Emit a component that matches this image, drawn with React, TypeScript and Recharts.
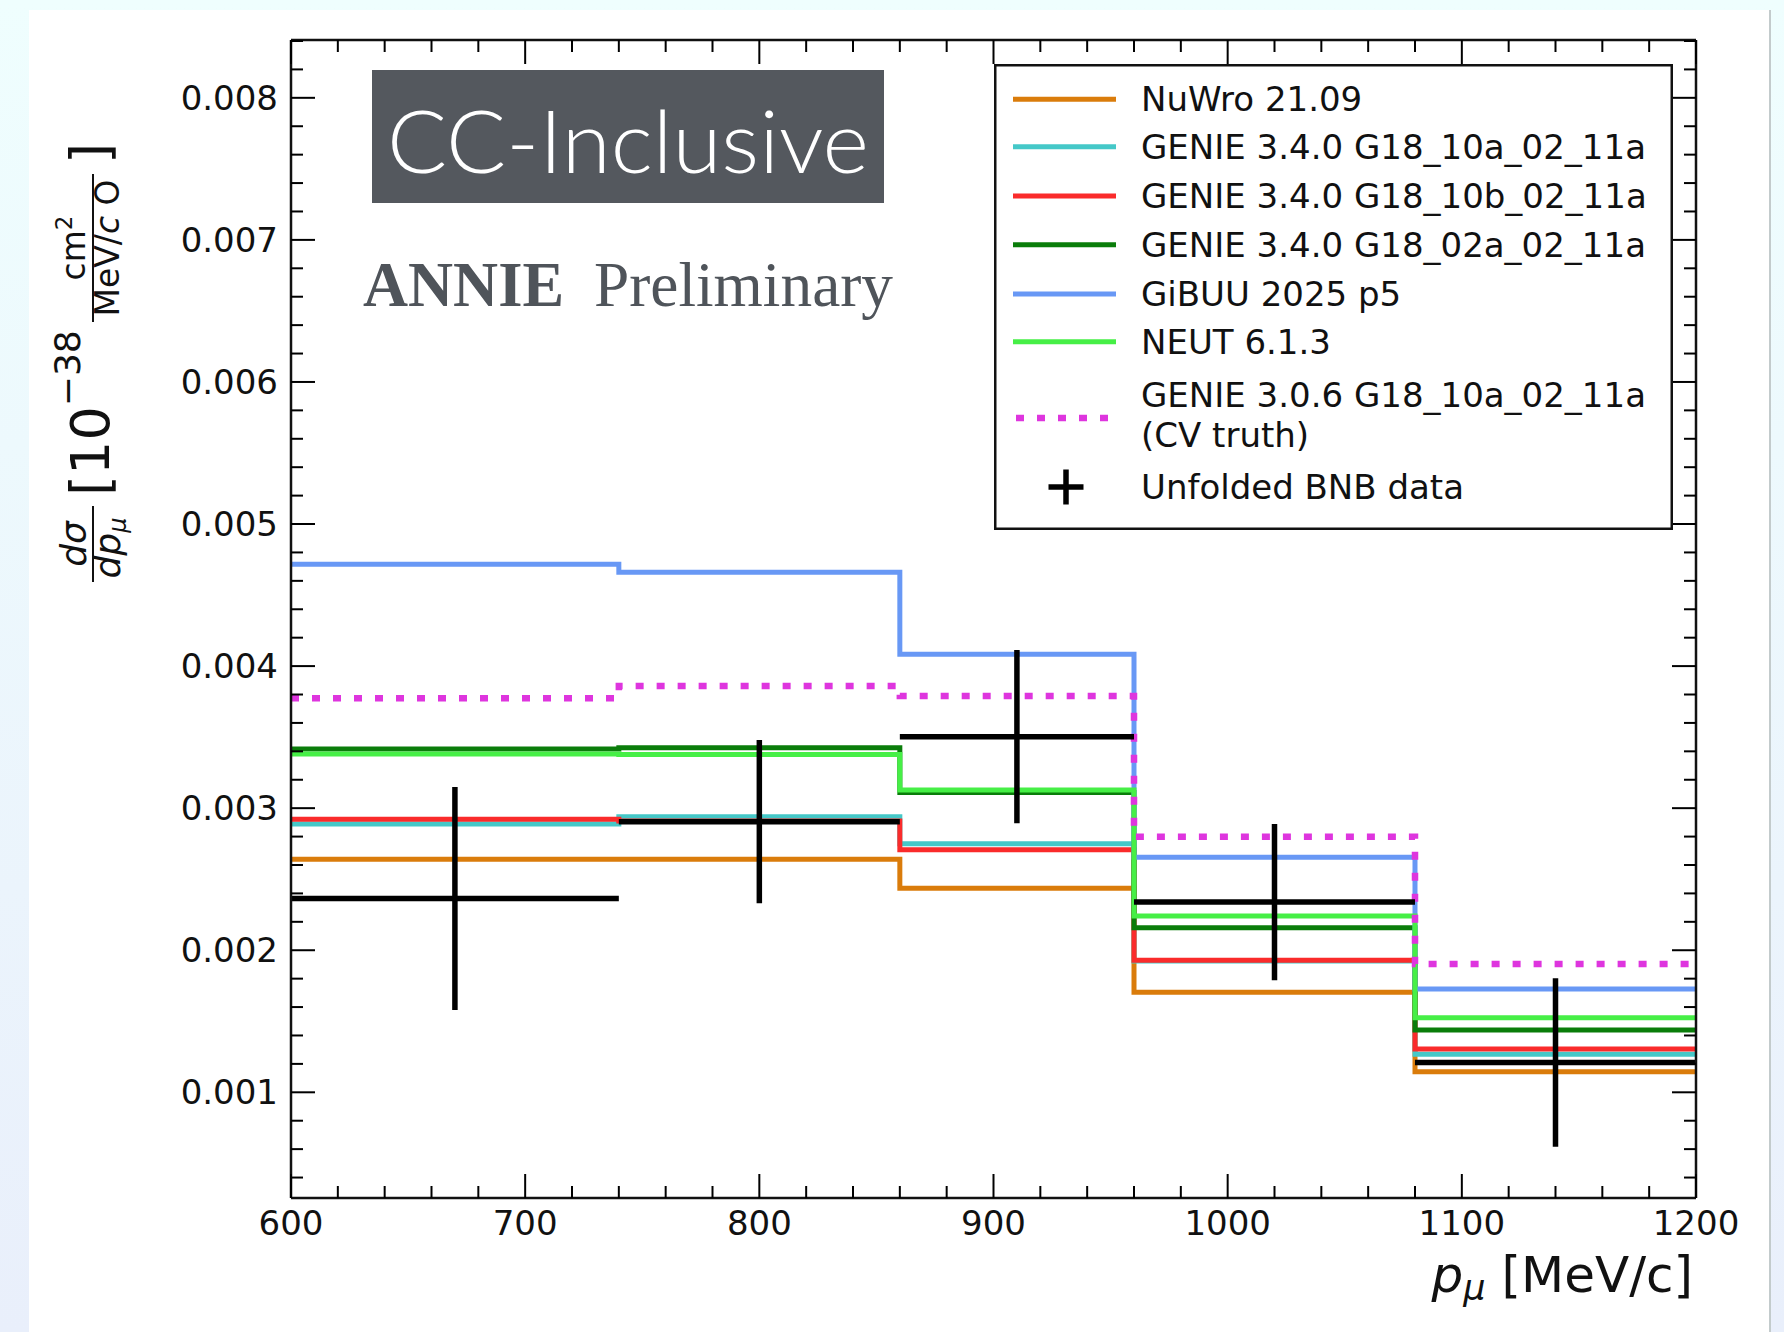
import React from 'react';
import { ComposedChart, Line, Scatter, ErrorBar, XAxis, YAxis, Legend, Customized } from 'recharts';

// ---------- data ----------
const binEdges = [600, 740, 860, 960, 1080, 1200];
const nuwro = [0.00264, 0.00264, 0.002436, 0.001704, 0.001145];
const genie10a = [0.002888, 0.00294, 0.00275, 0.001925, 0.001267];
const genie10b = [0.002922, 0.00291, 0.002708, 0.001929, 0.001305];
const genie02a = [0.003416, 0.003425, 0.00311, 0.002158, 0.001438];
const gibuu = [0.004717, 0.00466, 0.004083, 0.002654, 0.001727];
const neut = [0.003381, 0.003378, 0.003128, 0.002241, 0.001525];
const cvTruth = [0.003773, 0.00386, 0.00379, 0.002799, 0.001903];

const dataX = [670, 800, 910, 1020, 1140];
const dataY = [0.002364, 0.002905, 0.003503, 0.002339, 0.00121];
const dataYErr = [0.000785, 0.000575, 0.00061, 0.00055, 0.000593];
const dataXErr = [70, 60, 50, 60, 60];

const xMajorTicks = [600, 700, 800, 900, 1000, 1100, 1200];
const xTicks = [
  600, 620, 640, 660, 680, 700, 720, 740, 760, 780, 800, 820, 840, 860, 880, 900,
  920, 940, 960, 980, 1000, 1020, 1040, 1060, 1080, 1100, 1120, 1140, 1160, 1180, 1200,
];
const yMajorTicks = [0.001, 0.002, 0.003, 0.004, 0.005, 0.006, 0.007, 0.008];
const yTicks = [
  0.0004, 0.0006, 0.0008, 0.001, 0.0012, 0.0014, 0.0016, 0.0018, 0.002, 0.0022, 0.0024,
  0.0026, 0.0028, 0.003, 0.0032, 0.0034, 0.0036, 0.0038, 0.004, 0.0042, 0.0044, 0.0046,
  0.0048, 0.005, 0.0052, 0.0054, 0.0056, 0.0058, 0.006, 0.0062, 0.0064, 0.0066, 0.0068,
  0.007, 0.0072, 0.0074, 0.0076, 0.0078, 0.008, 0.0082, 0.0084,
];
const xDomain = [600, 1200];
const yDomain = [0.000256, 0.008407];

const seriesValues: Record<string, number[]> = {
  nuwro, genie10a, genie10b, genie02a, gibuu, neut, cvTruth,
};

const seriesConfig = [
  { key: 'nuwro', name: 'NuWro 21.09', color: '#da7c0b' },
  { key: 'genie10a', name: 'GENIE 3.4.0 G18_10a_02_11a', color: '#45c8c8' },
  { key: 'genie10b', name: 'GENIE 3.4.0 G18_10b_02_11a', color: '#fa2b2b' },
  { key: 'genie02a', name: 'GENIE 3.4.0 G18_02a_02_11a', color: '#0a7d0a' },
  { key: 'gibuu', name: 'GiBUU 2025 p5', color: '#6898f5' },
  { key: 'neut', name: 'NEUT 6.1.3', color: '#46ef46' },
  { key: 'cvTruth', name: 'GENIE 3.0.6 G18_10a_02_11a', name2: '(CV truth)', color: '#de35de', dash: '8 13' },
];
const dataName = 'Unfolded BNB data';

const stepRows = binEdges.map((x, i) => {
  const row: Record<string, number> = { x };
  const idx = Math.min(i, binEdges.length - 2);
  Object.keys(seriesValues).forEach((k) => {
    row[k] = seriesValues[k][idx];
  });
  return row;
});

const points = dataX.map((x, i) => ({ x, y: dataY[i], ex: dataXErr[i], ey: dataYErr[i] }));

// ---------- styling helpers ----------
const FONT = "'DejaVu Sans', 'Liberation Sans', sans-serif";
const MAJOR = 24;
const MINOR = 12;
const TICK_W = 2;
const isMajor = (v: number, majors: number[]) => majors.some((m) => Math.abs(m - v) < 1e-9);

const BottomTick = (props: any) => {
  const { x, y, payload } = props;
  const major = isMajor(payload.value, xMajorTicks);
  return (
    <g>
      <line x1={x} x2={x} y1={y} y2={y - (major ? MAJOR : MINOR)} stroke="#000" strokeWidth={TICK_W} />
      {major && (
        <text x={x} y={y + 37} textAnchor="middle" fontFamily={FONT} fontSize={34} fill="#111">
          {payload.value}
        </text>
      )}
    </g>
  );
};

const TopTick = (props: any) => {
  const { x, y, payload } = props;
  const major = isMajor(payload.value, xMajorTicks);
  return <line x1={x} x2={x} y1={y} y2={y + (major ? MAJOR : MINOR)} stroke="#000" strokeWidth={TICK_W} />;
};

const LeftTick = (props: any) => {
  const { x, y, payload } = props;
  const major = isMajor(payload.value, yMajorTicks);
  return (
    <g>
      <line x1={x} x2={x + (major ? MAJOR : MINOR)} y1={y} y2={y} stroke="#000" strokeWidth={TICK_W} />
      {major && (
        <text x={x - 13} y={y + 12} textAnchor="end" fontFamily={FONT} fontSize={34} fill="#111">
          {Number(payload.value).toFixed(3)}
        </text>
      )}
    </g>
  );
};

const RightTick = (props: any) => {
  const { x, y, payload } = props;
  const major = isMajor(payload.value, yMajorTicks);
  return <line x1={x} x2={x - (major ? MAJOR : MINOR)} y1={y} y2={y} stroke="#000" strokeWidth={TICK_W} />;
};

const NoShape = () => <g />;

// ---------- legend ----------
const LEG_FONT = 34;
const LegendContent = () => {
  const rowY = [35.3, 82.7, 132, 180.7, 230, 277.7];
  return (
    <svg width={680} height={467} style={{ display: 'block' }}>
      <rect x={1.25} y={1.25} width={676.5} height={463.5} fill="#fff" stroke="#111" strokeWidth={2.5} />
      {seriesConfig.slice(0, 6).map((s, i) => (
        <g key={s.key}>
          <line x1={19} x2={122} y1={rowY[i]} y2={rowY[i]} stroke={s.color} strokeWidth={5} />
          <text x={147} y={rowY[i] + 12} fontFamily={FONT} fontSize={LEG_FONT} fill="#111">
            {s.name}
          </text>
        </g>
      ))}
      <line x1={22} x2={122} y1={354} y2={354} stroke={seriesConfig[6].color} strokeWidth={6.5} strokeDasharray="8 13" />
      <text x={147} y={343} fontFamily={FONT} fontSize={LEG_FONT} fill="#111">
        {seriesConfig[6].name}
      </text>
      <text x={147} y={383} fontFamily={FONT} fontSize={LEG_FONT} fill="#111">
        {seriesConfig[6].name2}
      </text>
      <line x1={54.5} x2={89.5} y1={423} y2={423} stroke="#000" strokeWidth={5.5} />
      <line x1={72} x2={72} y1={405.5} y2={440.5} stroke="#000" strokeWidth={5.5} />
      <text x={147} y={435} fontFamily={FONT} fontSize={LEG_FONT} fill="#111">
        {dataName}
      </text>
    </svg>
  );
};

// ---------- annotations & axis titles ----------
const Annotations = () => (
  <g>
    <rect x={372} y={70} width={512} height={133} fill="#54585e" />
    <text
      x={387}
      y={173}
      fill="#ffffff"
      fontFamily="Lato, 'Open Sans', Roboto, sans-serif"
      fontWeight={300}
      fontSize={86}
      textLength={482}
      lengthAdjust="spacingAndGlyphs"
    >
      CC-Inclusive
    </text>
    <text
      x={363}
      y={306}
      fill="#4f545a"
      fontFamily="'Liberation Serif', 'DejaVu Serif', serif"
      fontWeight="bold"
      fontSize={64}
      textLength={201}
      lengthAdjust="spacingAndGlyphs"
    >
      ANNIE
    </text>
    <text
      x={594}
      y={306}
      fill="#4f545a"
      fontFamily="'Liberation Serif', 'DejaVu Serif', serif"
      fontSize={64}
      textLength={299}
      lengthAdjust="spacingAndGlyphs"
    >
      Preliminary
    </text>

    {/* x-axis title */}
    <text x={1693} y={1292} textAnchor="end" fontFamily={FONT} fontSize={50} fill="#111" style={{ whiteSpace: 'pre' }}>
      <tspan fontStyle="italic">p</tspan>
      <tspan fontStyle="italic" fontSize={35} dy={8}>μ</tspan>
      <tspan dy={-8}>{' [MeV/c]'}</tspan>
    </text>

    {/* y-axis title */}
    <g transform="translate(93,362) rotate(-90)" fontFamily={FONT} fill="#111">
      <text x={-182} y={-7} fontSize={36} fontStyle="italic" textAnchor="middle">dσ</text>
      <line x1={-220} x2={-144} y1={0} y2={0} stroke="#111" strokeWidth={2} />
      <text x={-186} y={27} fontSize={36} fontStyle="italic" textAnchor="middle">
        dp<tspan fontSize={24} dy={6}>μ</tspan>
      </text>
      <text x={-134} y={16} fontSize={54}>
        [10<tspan fontSize={36} dy={-29}>−38</tspan>
      </text>
      <text x={114} y={-8} fontSize={33} textAnchor="middle">
        cm<tspan fontSize={23} dy={-13}>2</tspan>
      </text>
      <line x1={40} x2={188} y1={0} y2={0} stroke="#111" strokeWidth={2} />
      <text x={114} y={26} fontSize={33} textAnchor="middle" style={{ whiteSpace: 'pre' }}>
        MeV/<tspan fontStyle="italic">c</tspan>{' O'}
      </text>
      <text x={198} y={16} fontSize={54}>]</text>
    </g>
  </g>
);

const axisLine = { stroke: '#111', strokeWidth: 2.5 };

export default function App() {
  return (
    <div
      style={{
        position: 'absolute',
        left: 0,
        top: 0,
        width: 1784,
        height: 1332,
        background: 'linear-gradient(to bottom, #effefe, #e9effb)',
        overflow: 'hidden',
      }}
    >
      <div
        style={{
          position: 'absolute',
          left: 29,
          top: 10,
          width: 1740,
          height: 1322,
          background: '#ffffff',
          borderRight: '2px solid #c3cbcc',
        }}
      />
      <div style={{ position: 'absolute', left: 0, top: 0 }}>
        <ComposedChart
          width={1784}
          height={1332}
          data={stepRows}
          margin={{ top: 39, right: 87, bottom: 74, left: 171 }}
        >
          <XAxis
            xAxisId={0}
            dataKey="x"
            type="number"
            domain={xDomain}
            allowDataOverflow
            ticks={xTicks}
            interval={0}
            height={60}
            tickSize={0}
            tickMargin={0}
            tickLine={false}
            tick={BottomTick}
            axisLine={axisLine}
          />
          <XAxis
            xAxisId="top"
            orientation="top"
            dataKey="x"
            type="number"
            domain={xDomain}
            allowDataOverflow
            ticks={xTicks}
            interval={0}
            height={1}
            tickSize={0}
            tickMargin={0}
            tickLine={false}
            tick={TopTick}
            axisLine={axisLine}
          />
          <YAxis
            yAxisId={0}
            type="number"
            domain={yDomain}
            allowDataOverflow
            ticks={yTicks}
            interval={0}
            width={120}
            tickSize={0}
            tickMargin={0}
            tickLine={false}
            tick={LeftTick}
            axisLine={axisLine}
          />
          <YAxis
            yAxisId="right"
            orientation="right"
            type="number"
            domain={yDomain}
            allowDataOverflow
            ticks={yTicks}
            interval={0}
            width={1}
            tickSize={0}
            tickMargin={0}
            tickLine={false}
            tick={RightTick}
            axisLine={axisLine}
          />
          <Customized component={Annotations} />
          {seriesConfig.map((s) => (
            <Line
              key={s.key}
              xAxisId={0}
              yAxisId={0}
              type="stepAfter"
              dataKey={s.key}
              name={s.name}
              stroke={s.color}
              strokeWidth={s.dash ? 6.5 : 5}
              strokeDasharray={s.dash}
              dot={false}
              activeDot={false}
              isAnimationActive={false}
            />
          ))}
          <Scatter
            xAxisId={0}
            yAxisId={0}
            data={points}
            dataKey="y"
            name={dataName}
            fill="#000"
            shape={NoShape}
            isAnimationActive={false}
          >
            <ErrorBar dataKey="ey" direction="y" width={0} stroke="#000" strokeWidth={5.5} isAnimationActive={false} />
            <ErrorBar dataKey="ex" direction="x" width={0} stroke="#000" strokeWidth={5.5} isAnimationActive={false} />
          </Scatter>
          <Legend
            layout="vertical"
            align="center"
            verticalAlign="middle"
            content={LegendContent}
            wrapperStyle={{ left: 994, top: 64, width: 680, height: 467 }}
          />
        </ComposedChart>
      </div>
    </div>
  );
}
